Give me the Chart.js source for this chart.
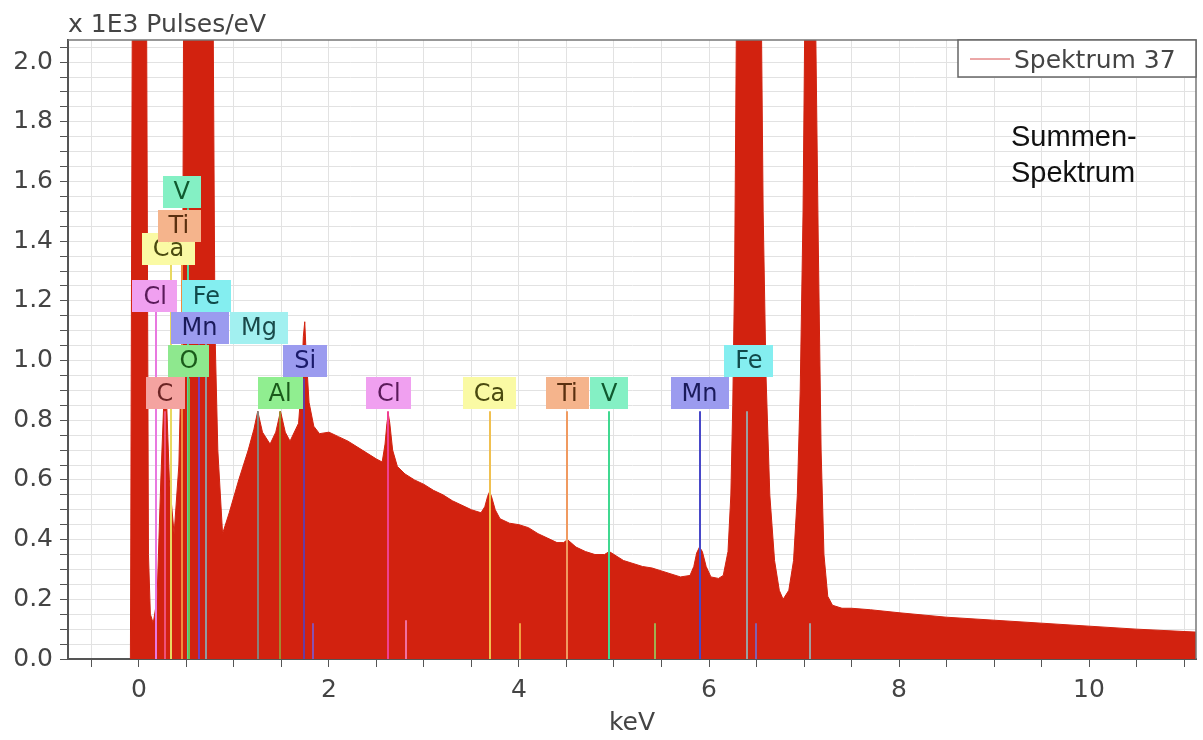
<!DOCTYPE html>
<html>
<head>
<meta charset="utf-8">
<script src="https://cdn.jsdelivr.net/npm/chart.js@4.4.1/dist/chart.umd.min.js"></script>
<style>
  body { margin: 0; background: #fff; }
  #wrap { width: 1203px; height: 740px; }
</style>
</head>
<body>
<div id="wrap"><canvas id="spectrum" width="1203" height="740"></canvas></div>
<script>
// Spectrum 37 - energy in keV, intensity in 1E3 pulses/eV
const energy = [
  -0.09, -0.07, 0.08, 0.10, 0.12, 0.15, 0.19, 0.23, 0.26, 0.29, 0.32, 0.37, 0.42, 0.46, 0.47,
  0.78, 0.80, 0.83, 0.88, 0.95, 1.05, 1.15, 1.21, 1.25, 1.30, 1.38, 1.44, 1.49, 1.54, 1.59, 1.68,
  1.71, 1.73, 1.745, 1.76, 1.79, 1.84, 1.90, 2.00, 2.10, 2.20, 2.30, 2.40, 2.50, 2.56, 2.59, 2.61,
  2.625, 2.64, 2.67, 2.72, 2.80, 2.90, 3.00, 3.10, 3.20, 3.30, 3.40, 3.50, 3.60, 3.64, 3.67, 3.69,
  3.71, 3.75, 3.80, 3.90, 4.00, 4.10, 4.20, 4.30, 4.40, 4.47, 4.51, 4.60, 4.70, 4.80, 4.90, 4.95,
  5.00, 5.10, 5.20, 5.30, 5.40, 5.50, 5.60, 5.70, 5.80, 5.84, 5.87, 5.90, 5.93, 5.97, 6.02, 6.10,
  6.15, 6.20, 6.23, 6.25, 6.27, 6.29, 6.55, 6.57, 6.60, 6.64, 6.69, 6.74, 6.78, 6.84, 6.89, 6.93,
  6.96, 6.99, 7.01, 7.12, 7.15, 7.18, 7.21, 7.25, 7.30, 7.40, 7.50, 7.70, 8.00, 8.50, 9.00, 9.50,
  10.00, 10.50, 11.13
];
const pulses = [
  0, 2.2, 2.2, 0.35, 0.15, 0.12, 0.2, 0.6, 0.85, 0.87, 0.6, 0.42, 0.65, 1.2, 2.2,
  2.2, 1.1, 0.7, 0.42, 0.49, 0.6, 0.7, 0.77, 0.83, 0.76, 0.72, 0.76, 0.83, 0.76, 0.73, 0.79,
  0.92, 1.08, 1.13, 1.02, 0.86, 0.78, 0.755, 0.76, 0.745, 0.73, 0.71, 0.69, 0.67, 0.66, 0.72, 0.79,
  0.82, 0.79, 0.7, 0.645, 0.62, 0.6, 0.585, 0.565, 0.55, 0.53, 0.515, 0.5, 0.49, 0.51, 0.545, 0.56,
  0.545, 0.5, 0.47, 0.455, 0.45, 0.44, 0.42, 0.405, 0.39, 0.39, 0.4, 0.375, 0.36, 0.35, 0.35, 0.36,
  0.35, 0.33, 0.32, 0.31, 0.305, 0.295, 0.285, 0.275, 0.28, 0.31, 0.355, 0.375, 0.36, 0.31, 0.275, 0.27,
  0.28, 0.36, 0.55, 0.85, 1.3, 2.2, 2.2, 1.5, 0.95, 0.55, 0.33, 0.23, 0.2, 0.23, 0.33, 0.55,
  0.9, 1.5, 2.2, 2.2, 1.4, 0.7, 0.35, 0.21, 0.18, 0.17, 0.17, 0.165, 0.155, 0.14, 0.13, 0.12,
  0.11, 0.10, 0.09
];

// element marker lines
const lineEnergy = [0.18, 0.277, 0.341, 0.452, 0.511, 0.525, 0.637, 0.705, 1.254, 1.486, 1.74, 1.835,
  2.622, 2.815, 3.69, 4.012, 4.51, 4.95, 5.43, 5.9, 6.4, 6.49, 7.06];
const lineTop = [1.17, 0.83, 1.32, 1.40, 1.51, 0.94, 1.055, 1.16, 0.83, 0.83, 0.94, 0.12,
  0.83, 0.13, 0.83, 0.12, 0.83, 0.83, 0.12, 0.83, 0.83, 0.12, 0.12];
const lineColor = ['#e878e0', '#f05078', '#e8d860', '#f08c40', '#50d8a0', '#70c050', '#7040c0', '#909aa0',
  '#8a8078', '#a08a30', '#6a3aa0', '#8a50b0', '#f04090', '#f070a0', '#f0c050', '#f0a040', '#f09a60',
  '#40d890', '#a0b050', '#4848c8', '#9aa0a0', '#8060b0', '#a0a0a0'];

// element labels (drawn in this order)
const labelText   = ['C', 'O', 'Mn', 'Mg', 'Cl', 'Fe', 'Ca', 'Ti', 'V', 'Al', 'Si', 'Cl', 'Ca', 'Ti', 'V', 'Mn', 'Fe'];
const labelEnergy = [0.274, 0.526, 0.637, 1.263, 0.17, 0.71, 0.31, 0.42, 0.45, 1.486, 1.75, 2.63, 3.69, 4.51, 4.95, 5.9, 6.42];
const labelLevel  = [0.89, 1.0, 1.11, 1.11, 1.215, 1.215, 1.375, 1.45, 1.565, 0.89, 1.0, 0.89, 0.89, 0.89, 0.89, 0.89, 1.0];
const labelBg = ['#f4a3a0', '#8ee88e', '#9b9bef', '#a2f0f0', '#f0a0f0', '#84eef0', '#fafaa4', '#f5b48c', '#84f0c4',
  '#90ee90', '#9b9bef', '#f0a0f0', '#fafaa4', '#f5b48c', '#84f0c4', '#9b9bef', '#84eef0'];
const labelFg = ['#6b2424', '#1a5a1a', '#1a1a5a', '#1a4a4a', '#5a1a5a', '#104a4a', '#4a4a10', '#5a3010', '#105a30',
  '#1a5a1a', '#1a1a6a', '#5a1a5a', '#4a4a10', '#5a3010', '#105a30', '#1a1a5a', '#104a4a'];

const xTickLabels = [0, 2, 4, 6, 8, 10];
const yTickLabels = [0, 0.2, 0.4, 0.6, 0.8, 1.0, 1.2, 1.4, 1.6, 1.8, 2.0];

const X_MIN = -0.747, X_MAX = 11.126, Y_MAX = 2.074;
const FONT = '"DejaVu Sans", Verdana, sans-serif';

function stepTicks(min, max, step) {
  const out = [];
  for (let k = Math.ceil(min / step - 1e-9); k * step <= max + 1e-9; k++) out.push({ value: +(k * step).toFixed(4) });
  return out;
}

const overlay = {
  id: 'overlay',
  afterDatasetsDraw(chart) {
    const { ctx, chartArea: a, scales: { x, y } } = chart;
    ctx.save();
    ctx.beginPath();
    ctx.rect(a.left, a.top, a.right - a.left, a.bottom - a.top);
    ctx.clip();

    // element lines
    lineEnergy.forEach((e, i) => {
      const px = Math.round(x.getPixelForValue(e));
      ctx.strokeStyle = lineColor[i];
      ctx.lineWidth = 2;
      ctx.beginPath();
      ctx.moveTo(px, y.getPixelForValue(0));
      ctx.lineTo(px, y.getPixelForValue(lineTop[i]));
      ctx.stroke();
    });

    // element labels
    ctx.font = '24px ' + FONT;
    ctx.textAlign = 'center';
    ctx.textBaseline = 'middle';
    labelText.forEach((t, i) => {
      const cx = x.getPixelForValue(labelEnergy[i]);
      const cy = y.getPixelForValue(labelLevel[i]);
      const w = ctx.measureText(t).width + 22;
      ctx.fillStyle = labelBg[i];
      ctx.fillRect(Math.round(cx - w / 2), Math.round(cy - 16), Math.round(w), 32);
      ctx.fillStyle = labelFg[i];
      ctx.fillText(t, cx, cy + 1);
    });
    ctx.restore();

    // frame top/right
    ctx.save();
    ctx.strokeStyle = '#777';
    ctx.lineWidth = 1.5;
    ctx.beginPath();
    ctx.moveTo(a.left, a.top);
    ctx.lineTo(a.right, a.top);
    ctx.lineTo(a.right, a.bottom);
    ctx.stroke();

    // legend box
    ctx.fillStyle = '#fff';
    ctx.fillRect(a.right - 238, a.top, 238, 37);
    ctx.strokeStyle = '#666';
    ctx.lineWidth = 1.5;
    ctx.strokeRect(a.right - 238, a.top, 238, 37);
    ctx.strokeStyle = '#d85050';
    ctx.lineWidth = 1;
    ctx.beginPath();
    ctx.moveTo(a.right - 226, a.top + 19);
    ctx.lineTo(a.right - 186, a.top + 19);
    ctx.stroke();
    ctx.fillStyle = '#444';
    ctx.font = '25px ' + FONT;
    ctx.textAlign = 'left';
    ctx.textBaseline = 'alphabetic';
    ctx.fillText('Spektrum 37', a.right - 182, a.top + 28);

    // annotation
    ctx.fillStyle = '#111';
    ctx.font = '29px "Liberation Sans", Arial, sans-serif';
    ctx.fillText('Summen-', 1011, 146);
    ctx.fillText('Spektrum', 1011, 182);

    // unit title
    ctx.fillStyle = '#444';
    ctx.font = '25px ' + FONT;
    ctx.fillText('x 1E3 Pulses/eV', 68, 32);
    ctx.restore();
  }
};

new Chart(document.getElementById('spectrum'), {
  type: 'line',
  data: {
    datasets: [{
      label: 'Spektrum 37',
      data: energy.map((e, i) => ({ x: e, y: pulses[i] })),
      borderColor: '#d2220f',
      backgroundColor: '#d2220f',
      borderWidth: 1,
      pointRadius: 0,
      tension: 0,
      fill: 'origin'
    }]
  },
  options: {
    responsive: false,
    animation: false,
    layout: { padding: { top: 40, right: 7, left: 0, bottom: 0 } },
    plugins: { legend: { display: false }, tooltip: { enabled: false } },
    scales: {
      x: {
        type: 'linear',
        min: X_MIN,
        max: X_MAX,
        afterBuildTicks: (axis) => { axis.ticks = stepTicks(X_MIN, X_MAX, 0.5); },
        afterFit: (axis) => { axis.height = 81; },
        grid: { color: '#e2e2e2', tickColor: '#555', tickLength: 8 },
        border: { color: '#555', width: 2 },
        ticks: {
          autoSkip: false,
          maxRotation: 0,
          padding: 8,
          color: '#444',
          font: { family: FONT, size: 25 },
          callback: (v) => xTickLabels.find(t => Math.abs(t - v) < 1e-6) !== undefined ? String(Math.round(v)) : ''
        },
        title: { display: true, text: 'keV', color: '#444', font: { family: FONT, size: 25 }, padding: { top: 0, bottom: 2 } }
      },
      y: {
        min: 0,
        max: Y_MAX,
        afterBuildTicks: (axis) => { axis.ticks = stepTicks(0, Y_MAX, 0.05); },
        afterFit: (axis) => { axis.width = 68; },
        grid: { color: '#e2e2e2', tickColor: '#555', tickLength: 8 },
        border: { color: '#555', width: 2 },
        ticks: {
          autoSkip: false,
          padding: 7,
          color: '#444',
          font: { family: FONT, size: 25 },
          callback: (v) => {
            const t = yTickLabels.find(t => Math.abs(t - v) < 1e-6);
            return t === undefined ? '' : t.toFixed(1);
          }
        }
      }
    }
  },
  plugins: [overlay]
});
</script>
</body>
</html>
